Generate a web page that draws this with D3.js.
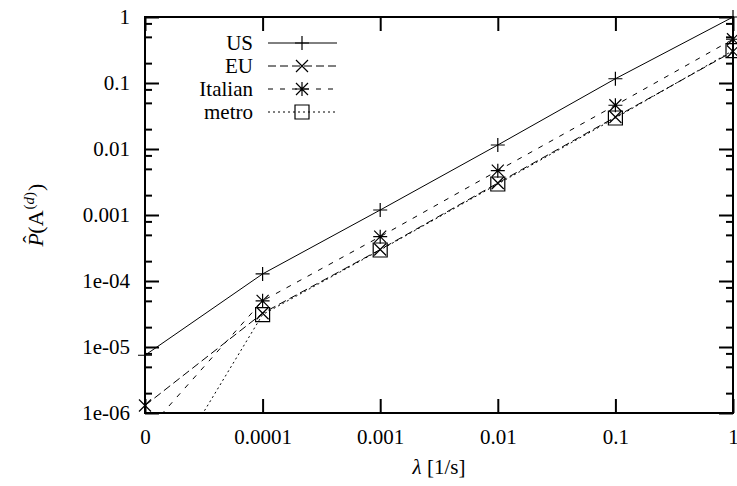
<!DOCTYPE html>
<html>
<head>
<meta charset="utf-8">
<script src="https://cdn.jsdelivr.net/npm/d3@7"></script>
<style>
  html, body { margin: 0; padding: 0; background: #fff; }
  svg { display: block; }
</style>
</head>
<body>
<svg id="chart" width="737" height="486" font-family="Liberation Serif"></svg>
<script>
// Arrival rate categories (x) and estimated probabilities per network (y)
const xLabels = ["0", "0.0001", "0.001", "0.01", "0.1", "1"];
const usValues = [7.5e-6, 1.28e-4, 1.19e-3, 0.0115, 0.116, 1.0];
const euValues = [1.3e-6, 3.25e-5, 3.0e-4, 3.05e-3, 0.0305, 0.30];
const italianValues = [5e-7, 5.0e-5, 4.7e-4, 4.7e-3, 0.046, 0.46];
const metroValues = [3.5e-8, 3.1e-5, 2.95e-4, 2.95e-3, 0.0295, 0.31];

const seriesNames = ["US", "EU", "Italian", "metro"];
const yTickValues = [1, 0.1, 0.01, 0.001, 1e-4, 1e-5, 1e-6];
const yTickLabels = ["1", "0.1", "0.01", "0.001", "1e-04", "1e-05", "1e-06"];
const yMinorMantissas = [2, 5, 8];

const series = [
  { name: seriesNames[0], values: usValues, dash: null, marker: "plus" },
  { name: seriesNames[1], values: euValues, dash: "8,4", marker: "cross" },
  { name: seriesNames[2], values: italianValues, dash: "5,7", marker: "star" },
  { name: seriesNames[3], values: metroValues, dash: "2,3", marker: "box" }
];

const m = { left: 145, right: 733, top: 17, bottom: 413 };
const FS = 21;
const SERIF = "Liberation Serif";

const svg = d3.select("#chart");

const x = d3.scalePoint().domain(xLabels).range([m.left, m.right]);
const y = d3.scaleLog().domain([1e-6, 1]).range([m.bottom, m.top]);

// minor ticks at 2, 5, 8 per decade
const minorTicks = [];
for (let e = -6; e < 0; e++) {
  yMinorMantissas.forEach(k => minorTicks.push(k * Math.pow(10, e)));
}

const MAJ = 14, MIN = 7;

function styleAxis(g) {
  g.attr("font-family", SERIF).attr("font-size", FS);
  g.select(".domain").remove();
  g.selectAll("line").attr("stroke", "#000").attr("stroke-width", 2);
  g.selectAll("text").attr("font-size", FS).attr("font-family", SERIF).attr("fill", "#000");
}

// left axis: major ticks with labels, drawn inward
const gl = svg.append("g").attr("transform", `translate(${m.left},0)`)
  .call(d3.axisLeft(y).tickValues(yTickValues)
    .tickFormat((d, i) => yTickLabels[i]).tickSizeInner(-MAJ).tickSizeOuter(0).tickPadding(15));
styleAxis(gl);
gl.selectAll("text").attr("dy", "0.32em");

const glMinor = svg.append("g").attr("transform", `translate(${m.left},0)`)
  .call(d3.axisLeft(y).tickValues(minorTicks).tickFormat("").tickSizeInner(-MIN).tickSizeOuter(0));
styleAxis(glMinor);

// right mirror
const gr = svg.append("g").attr("transform", `translate(${m.right},0)`)
  .call(d3.axisRight(y).tickValues(yTickValues).tickFormat("").tickSizeInner(-MAJ).tickSizeOuter(0));
styleAxis(gr);
const grMinor = svg.append("g").attr("transform", `translate(${m.right},0)`)
  .call(d3.axisRight(y).tickValues(minorTicks).tickFormat("").tickSizeInner(-MIN).tickSizeOuter(0));
styleAxis(grMinor);

// bottom axis
const gb = svg.append("g").attr("transform", `translate(0,${m.bottom})`)
  .call(d3.axisBottom(x).tickSizeInner(-MAJ).tickSizeOuter(0).tickPadding(16));
styleAxis(gb);

// top mirror
const gt = svg.append("g").attr("transform", `translate(0,${m.top})`)
  .call(d3.axisTop(x).tickFormat("").tickSizeInner(-MAJ).tickSizeOuter(0));
styleAxis(gt);

// clip region for the curves
svg.append("defs").append("clipPath").attr("id", "plotClip")
  .append("rect").attr("x", m.left).attr("y", m.top)
  .attr("width", m.right - m.left).attr("height", m.bottom - m.top);

const line = d3.line().x((d, i) => x(xLabels[i])).y(d => y(d));

function drawMarker(g, type, cx, cy) {
  const s = 6;
  const p = d3.path();
  if (type === "plus" || type === "star") {
    p.moveTo(cx - s - 1, cy); p.lineTo(cx + s + 1, cy);
    p.moveTo(cx, cy - s - 1); p.lineTo(cx, cy + s + 1);
  }
  if (type === "cross" || type === "star") {
    p.moveTo(cx - s, cy - s); p.lineTo(cx + s, cy + s);
    p.moveTo(cx - s, cy + s); p.lineTo(cx + s, cy - s);
  }
  if (type === "box") {
    p.rect(cx - 7, cy - 7, 14, 14);
  }
  g.append("path").attr("d", p.toString()).attr("fill", "none")
    .attr("stroke", "#000").attr("stroke-width", 1.2);
}

const plotG = svg.append("g");
series.forEach(s => {
  plotG.append("path")
    .attr("d", line(s.values))
    .attr("clip-path", "url(#plotClip)")
    .attr("fill", "none").attr("stroke", "#000").attr("stroke-width", 1)
    .attr("stroke-dasharray", s.dash);
  const mg = plotG.append("g");
  s.values.forEach((v, i) => {
    if (v >= 1e-6 && v <= 1) drawMarker(mg, s.marker, x(xLabels[i]), y(v));
  });
});

// legend
const lg = svg.append("g");
series.forEach((s, i) => {
  const cy = 43 + i * 23;
  lg.append("text").attr("x", 253).attr("y", cy).attr("dy", "0.34em")
    .attr("text-anchor", "end").attr("font-size", FS)
    .attr("font-family", SERIF).text(s.name);
  lg.append("line").attr("x1", 268).attr("x2", 337).attr("y1", cy).attr("y2", cy)
    .attr("stroke", "#000").attr("stroke-width", 1).attr("stroke-dasharray", s.dash);
  drawMarker(lg, s.marker, 302, cy);
});

// frame
svg.append("rect").attr("x", m.left).attr("y", m.top)
  .attr("width", m.right - m.left).attr("height", m.bottom - m.top)
  .attr("fill", "none").attr("stroke", "#000").attr("stroke-width", 2);

// x axis title
const xt = svg.append("text").attr("x", (m.left + m.right) / 2).attr("y", 474)
  .attr("text-anchor", "middle").attr("font-size", FS).attr("font-family", SERIF);
xt.append("tspan").attr("font-style", "italic").text("λ");
xt.append("tspan").text(" [1/s]");

// y axis title: P-hat(A^(d))
const yt = svg.append("text")
  .attr("transform", `translate(43,${(m.top + m.bottom) / 2}) rotate(-90)`)
  .attr("text-anchor", "middle").attr("font-size", 22).attr("font-family", SERIF);
yt.append("tspan").attr("font-style", "italic").text("P");
yt.append("tspan").attr("dx", -10).attr("dy", -5).text("ˆ");
yt.append("tspan").attr("dx", 2).attr("dy", 5).text("(");
yt.append("tspan").text("A");
yt.append("tspan").attr("font-size", 15).attr("dy", -9).attr("dx", 1).text("(");
yt.append("tspan").attr("font-size", 15).attr("font-style", "italic").text("d");
yt.append("tspan").attr("font-size", 15).text(")");
yt.append("tspan").attr("dy", 9).attr("dx", 1).text(")");
</script>
</body>
</html>
